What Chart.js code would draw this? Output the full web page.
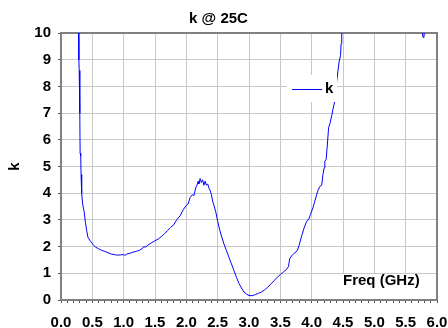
<!DOCTYPE html>
<html>
<head>
<meta charset="utf-8">
<script src="https://cdn.jsdelivr.net/npm/chart.js@4"></script>
<style>
  body { margin: 0; background: #fff; }
  canvas { display: block; }
</style>
</head>
<body>
<canvas id="kChart" width="448" height="328"></canvas>
<script>
const chartTitle = "k @ 25C";
const seriesName = "k";
const xAxisTitle = "Freq (GHz)";
const yAxisTitle = "k";

// frequency (GHz) and stability factor k
const freqs = [
  0.27, 0.28, 0.285, 0.29, 0.3, 0.305, 0.315, 0.32, 0.33, 0.345, 0.37, 0.39,
  0.41, 0.43, 0.47, 0.51, 0.55, 0.6, 0.65, 0.7, 0.75, 0.8, 0.85, 0.9, 0.95,
  1.0, 1.02, 1.05, 1.1, 1.15, 1.2, 1.25, 1.3, 1.32, 1.35, 1.4, 1.45, 1.5,
  1.55, 1.6, 1.65, 1.7, 1.75, 1.8, 1.85, 1.9, 1.95, 2.0, 2.03, 2.06, 2.1,
  2.12, 2.15, 2.17, 2.19, 2.2, 2.22, 2.24, 2.26, 2.28, 2.3, 2.32, 2.34,
  2.36, 2.38, 2.4, 2.42, 2.44, 2.47, 2.5, 2.53, 2.56, 2.6, 2.64, 2.68,
  2.72, 2.76, 2.8, 2.84, 2.88, 2.92, 2.96, 3.0, 3.05, 3.1, 3.15, 3.2, 3.25,
  3.3, 3.35, 3.4, 3.45, 3.5, 3.55, 3.6, 3.63, 3.65, 3.68, 3.72, 3.75, 3.77,
  3.8, 3.84, 3.88, 3.92, 3.95, 3.98, 4.02, 4.05, 4.08, 4.1, 4.13, 4.16,
  4.18, 4.2, 4.21, 4.23, 4.25, 4.27, 4.29, 4.32, 4.34, 4.37, 4.4, 4.42,
  4.44, 4.46, 4.47, 4.48, 4.6, 5.0, 5.5, 5.76, 5.775, 5.79, 5.805, 5.85, 6.0
];
const kValues = [
  11.0, 10.0, 9.0, 8.6, 7.0, 5.5, 5.4, 4.7, 4.0, 3.6, 3.3, 2.9,
  2.6, 2.35, 2.2, 2.08, 1.98, 1.92, 1.86, 1.82, 1.77, 1.72, 1.7, 1.68, 1.69,
  1.7, 1.67, 1.72, 1.75, 1.79, 1.82, 1.86, 1.93, 2.0, 1.98, 2.08, 2.15, 2.22,
  2.28, 2.37, 2.48, 2.6, 2.72, 2.82, 3.02, 3.15, 3.38, 3.55, 3.6, 3.84, 3.95,
  3.9, 4.2, 4.3, 4.45, 4.35, 4.55, 4.4, 4.5, 4.3, 4.45, 4.3, 4.35,
  4.2, 4.1, 3.95, 3.7, 3.55, 3.3, 2.95, 2.65, 2.4, 2.1, 1.85, 1.6,
  1.35, 1.1, 0.85, 0.62, 0.45, 0.3, 0.22, 0.17, 0.16, 0.2, 0.25, 0.3, 0.38,
  0.48, 0.6, 0.72, 0.85, 0.95, 1.05, 1.15, 1.25, 1.55, 1.65, 1.75, 1.8, 1.85,
  2.05, 2.4, 2.7, 2.95, 3.0, 3.2, 3.45, 3.7, 3.95, 4.1, 4.25, 4.3,
  4.7, 4.95, 5.2, 5.25, 5.8, 6.45, 6.6, 6.9, 7.15, 7.45, 8.2, 8.6,
  8.95, 9.15, 9.6, 10.2, 12.0, 12.0, 12.0, 10.3, 9.85, 9.82, 10.2, 11.0, 12.0
];

const xMin = 0, xMax = 6, xStep = 0.1;
const yMin = 0, yMax = 10, yStep = 1;

const boldFont = { family: "'Liberation Sans', Arial, sans-serif", size: 15, weight: "bold" };

const isMajor = (v) => Math.round(v * 10) % 5 === 0;

// top/right frame, the boxed axis title and the in-plot legend
const plotDecor = {
  id: "plotDecor",
  beforeDatasetsDraw(chart) {
    const { ctx, chartArea: a } = chart;
    ctx.save();
    ctx.strokeStyle = "#808080";
    ctx.lineWidth = 2;
    ctx.beginPath();
    ctx.moveTo(a.left, a.top);
    ctx.lineTo(a.right, a.top);
    ctx.lineTo(a.right, a.bottom);
    ctx.stroke();

    ctx.fillStyle = "#fff";
    ctx.fillRect(339, 274, 93, 25);
    ctx.fillStyle = "#000";
    ctx.font = "bold 15px 'Liberation Sans', Arial, sans-serif";
    ctx.textBaseline = "alphabetic";
    ctx.textAlign = "left";
    ctx.fillText(xAxisTitle, 343, 285);
    ctx.restore();
  },
  afterDatasetsDraw(chart) {
    const { ctx } = chart;
    ctx.save();
    ctx.fillStyle = "#fff";
    ctx.fillRect(287, 75, 50, 27);
    ctx.strokeStyle = "#0000ff";
    ctx.lineWidth = 1;
    ctx.beginPath();
    ctx.moveTo(292, 89.5);
    ctx.lineTo(322, 89.5);
    ctx.stroke();
    ctx.fillStyle = "#000";
    ctx.font = "bold 15px 'Liberation Sans', Arial, sans-serif";
    ctx.textBaseline = "middle";
    ctx.textAlign = "left";
    ctx.fillText(seriesName, 325, 89);
    ctx.restore();
  },
};

const ctx = document.getElementById("kChart").getContext("2d");
const kChart = new Chart(ctx, {
  type: "line",
  data: {
    datasets: [
      {
        label: seriesName,
        data: freqs.map((f, i) => ({ x: f, y: kValues[i] })),
        borderColor: "#0000ff",
        borderWidth: 1,
        pointRadius: 0,
        tension: 0,
        fill: false,
      },
    ],
  },
  plugins: [plotDecor],
  options: {
    responsive: false,
    animation: false,
    layout: { padding: { left: 0, right: 11, top: 0, bottom: 0 } },
    plugins: {
      legend: { display: false },
      tooltip: { enabled: false },
      title: {
        display: true,
        text: chartTitle,
        color: "#000",
        font: boldFont,
        padding: { top: 10, bottom: 5 },
      },
    },
    scales: {
      x: {
        type: "linear",
        min: xMin,
        max: xMax,
        afterFit: (scale) => {
          scale.height = 28;
          scale.paddingLeft = 0;
          scale.paddingRight = 0;
        },
        border: { color: "#808080", width: 2 },
        grid: {
          color: (c) => (c.tick && isMajor(c.tick.value) ? "#c8c8c8" : "rgba(0,0,0,0)"),
          tickColor: "#555",
          tickLength: 3,
        },
        ticks: {
          stepSize: xStep,
          autoSkip: false,
          maxRotation: 0,
          padding: 11,
          color: "#000",
          font: boldFont,
          callback: (v) => (isMajor(v) ? v.toFixed(1) : ""),
        },
      },
      y: {
        min: yMin,
        max: yMax,
        afterFit: (scale) => { scale.width = 61; },
        border: { color: "#808080", width: 2 },
        grid: { color: "#c8c8c8", tickColor: "#555", tickLength: 3 },
        ticks: { stepSize: yStep, padding: 7, color: "#000", font: boldFont },
        title: {
          display: true,
          text: yAxisTitle,
          color: "#000",
          font: boldFont,
          padding: { top: 6, bottom: 0 },
        },
      },
    },
  },
});
</script>
</body>
</html>
